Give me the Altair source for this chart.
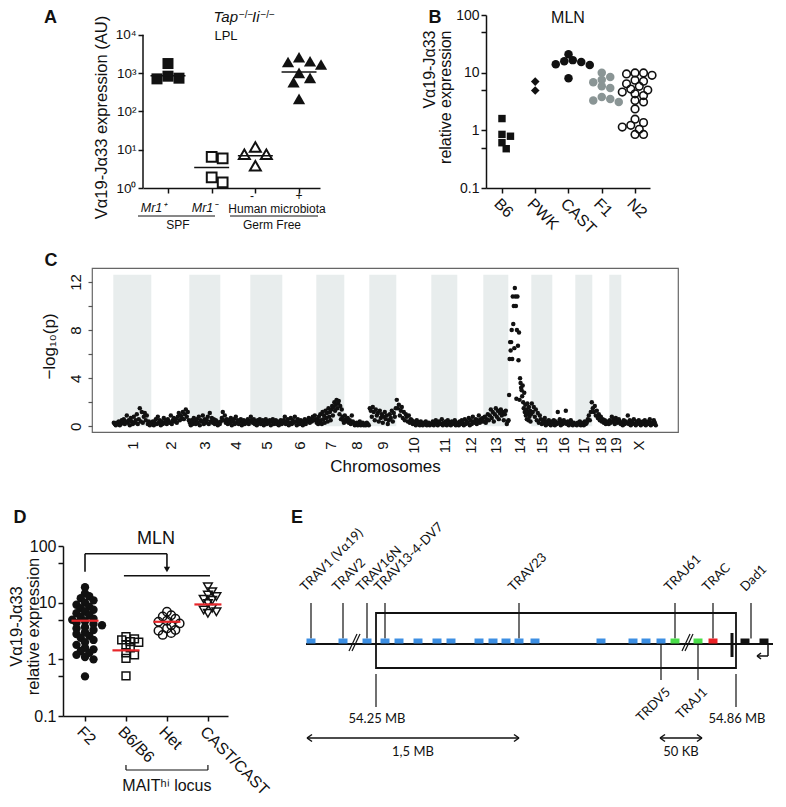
import math

import altair as alt
import pandas as pd

FONT = "Liberation Sans"
EFONT = "Lato"
INK = "#111111"
RED = "#e8262a"
ONE = pd.DataFrame({"d": [0]})

# ---------------- Panel A: Tap-/- Ii-/- LPL ----------------
a_mr1_pos = [826, 703, 1766, 733]
a_mr1_neg = [6.5, 5.9, 1.40, 1.88]
a_gf_neg = [11.8, 7.6, 7.6, 3.8]
a_gf_pos = [2025, 1663, 2572, 1943, 746, 577, 1006, 212]
a_means = [850, 3.43, 6.9, 1069]
a_ticks = [1, 10, 100, 1000, 10000]
a_tick_labels = ["10⁰", "10¹", "10²", "10³", "10⁴"]

# ---------------- Panel B: MLN ----------------
b_names = ["B6", "PWK", "CAST", "F1", "N2"]
b_b6 = [1.6, 0.85, 0.79, 0.61, 0.48]
b_pwk = [4.9, 7.0]
b_cast = [20.9, 15.8, 15.3, 16.5, 14.0, 13.6, 8.0]
b_f1 = [10.0, 8.4, 7.5, 6.8, 5.8, 5.4, 3.8, 3.5, 3.3, 3.1]
b_n2 = [9.9, 9.9, 9.5, 9.0, 7.4, 7.1, 6.4, 5.8, 5.2, 5.0, 4.6, 4.3, 4.0, 3.3,
        3.1, 2.35, 1.56, 1.36, 1.22, 1.14, 1.04, 0.85, 0.85]
rel_ticks = [0.1, 0.5, 1, 5, 10, 50, 100]
rel_labels = ["0.1", "", "1", "", "10", "", "100"]

# ---------------- Panel C: genome scan ----------------
chrom_names = [str(i) for i in range(1, 20)] + ["X"]
chrom_len = [38, 38, 31, 30, 32, 34, 28, 25, 27, 35, 26, 26, 25, 23, 21, 23, 17, 17, 12, 35]
chrom_lod = [
    "0.3 0.2 0.1 0.3 0.2 0.4 0.1 0.2 0.5 0.3 0.6 0.2 0.4 0.9 0.3 0.5 0.1 0.7 0.4 0.2 0.8 0.3 0.5 1.0 0.2 0.6 1.5 0.4 1.2 0.3 0.8 1.1 0.5 0.9 0.2 0.4 0.1 0.3",
    "0.2 0.4 0.1 0.3 0.6 0.2 0.8 0.3 0.5 0.1 0.4 0.2 0.7 0.3 0.5 0.2 0.6 0.4 0.3 0.9 0.2 0.5 0.7 0.4 0.6 0.3 0.8 1.1 0.5 0.9 0.7 1.2 0.6 1.0 1.4 0.8 1.2 0.5",
    "0.3 0.1 0.5 0.2 0.7 0.4 0.2 0.6 0.3 0.8 0.1 0.5 0.4 0.9 0.2 0.6 0.3 0.5 0.8 0.2 1.1 0.4 0.7 0.3 0.6 0.2 0.5 0.4 0.1 0.3 0.2",
    "0.4 0.7 1.2 0.5 0.9 0.3 0.6 0.2 0.5 0.3 0.7 0.1 0.4 0.6 0.2 0.8 0.3 0.5 0.2 0.4 0.6 0.1 0.3 0.5 0.2 0.4 0.3 0.6 0.2 0.4",
    "0.8 0.5 0.3 0.6 0.2 0.4 0.1 0.5 0.3 0.6 0.2 0.4 0.5 0.1 0.3 0.6 0.2 0.4 0.3 0.5 0.1 0.4 0.6 0.2 0.3 0.5 0.2 0.4 0.1 0.3 0.5 0.2",
    "0.3 0.5 0.8 0.2 0.4 0.6 0.1 0.3 0.7 0.2 0.5 0.3 0.8 0.4 0.1 0.6 0.3 0.2 0.5 0.4 0.1 0.3 0.6 0.2 0.4 0.5 0.7 0.3 0.6 0.4 0.8 0.5 0.9 0.6",
    "0.3 0.6 0.2 0.8 0.4 1.0 0.5 0.2 1.2 0.6 0.9 0.3 1.3 0.7 1.1 0.4 1.5 0.8 1.2 0.5 1.4 1.7 0.9 1.6 2.0 1.3 1.8 2.2 1.5 1.9 2.1 1.0 1.7 0.6 1.4 0.8 0.5 0.3",
    "0.9 0.6 0.4 0.7 0.3 0.5 0.2 0.9 0.4 0.3 0.1 0.2 0.3 0.1 0.2 0.4 0.1 0.2 0.3 0.1 0.2 0.1 0.3 0.2 0.1",
    "1.5 1.3 0.8 1.6 1.2 0.5 1.4 0.9 1.1 0.4 1.3 0.7 1.0 0.3 0.8 1.2 0.6 0.9 0.2 0.5 1.0 0.7 1.3 0.4 1.1 0.8 1.5",
    "2.2 1.5 1.8 0.9 1.3 1.6 0.7 1.2 0.5 1.0 0.8 0.4 0.9 0.3 0.6 0.5 0.2 0.4 0.3 0.1 0.5 0.2 0.3 0.1 0.4 0.2 0.1 0.3 0.2 0.4 0.1 0.2 0.3 0.1 0.2",
    "0.2 0.4 0.1 0.3 0.5 0.2 0.1 0.4 0.3 0.2 0.6 0.1 0.3 0.2 0.4 0.1 0.5 0.2 0.3 0.1 0.4 0.2 0.3 0.5 0.1 0.2",
    "0.3 0.1 0.4 0.2 0.5 0.3 0.1 0.6 0.2 0.4 0.3 0.7 0.1 0.5 0.2 0.8 0.4 0.3 0.6 0.2 0.5 0.9 0.3 0.6 0.4 0.7",
    "0.4 0.8 0.3 0.6 1.0 0.5 0.9 1.4 0.7 1.2 0.4 1.0 1.5 0.8 1.3 0.6 1.1 1.4 0.9 1.2 0.5 1.0 1.3 0.2 0.4",
    "0.5 2.6 5.6 7.0 6.3 7.0 8.0 5.6 10.8 8.5 10.0 6.5 11.5 10.8 10.0 2.3 8.0 10.8 6.7 5.5 7.8 2.2 4.0 3.6 3.2 3.0 2.5 3.4 2.0 1.5 2.8 1.2 1.8 0.9 1.4 0.6 1.9 1.1 0.5 1.6 0.8 1.3 0.4 1.0",
    "1.9 1.2 1.6 0.8 1.4 0.5 1.1 0.3 0.9 0.6 0.2 0.5 0.3 0.7 0.1 0.4 0.2 0.5 0.3 0.1 0.4",
    "0.3 0.5 0.1 0.4 0.2 1.2 0.3 0.6 0.1 0.4 0.2 0.5 0.3 1.3 0.2 0.4 0.1 0.3 0.5 0.2 0.1 0.3 0.2",
    "0.2 0.1 0.3 0.2 0.4 0.1 0.3 0.2 0.1 0.4 0.2 0.3 0.6 0.9 0.5 1.2 2.0",
    "1.5 1.2 1.7 0.9 1.3 0.7 1.0 0.5 0.8 0.4 0.6 0.3 0.5 0.2 0.4 0.3 0.2",
    "0.5 0.3 0.8 0.4 0.6 0.2 0.7 0.5 0.3 0.6 0.4 0.2",
    "0.3 0.1 0.5 0.2 0.4 0.3 0.9 0.2 0.5 0.1 0.4 0.3 0.6 0.2 0.1 0.4 0.3 0.5 0.2 0.1 0.3 0.4 0.2 0.5 0.1 0.3 0.2 0.4 0.6 0.1 0.3 0.2 0.5 0.3 0.1",
]

# ---------------- Panel D: MLN, F2 ----------------
d_names = ["F2", "B6/B6", "Het", "CAST/CAST"]
d_f2 = [18.7, 14.6, 13.0, 12.0, 11.0, 10.0, 9.2, 8.5, 8.0, 7.5, 7.0, 6.5, 6.0, 5.6,
        5.2, 5.0, 4.7, 4.4, 4.2, 4.0, 3.7, 3.5, 3.3, 3.0, 2.8, 2.6, 2.4, 2.2, 2.0,
        1.8, 1.6, 1.5, 1.4, 1.3, 1.2, 1.1, 1.0, 0.5]
d_b6 = [2.5, 2.3, 2.2, 2.05, 2.0, 1.8, 1.6, 1.3, 1.2, 1.04, 0.51]
d_het = [6.9, 6.0, 5.7, 5.2, 4.8, 4.6, 4.3, 4.0, 3.5, 3.3, 3.2, 2.9, 2.7]
d_cast = [19.0, 15.6, 13.6, 12.8, 11.5, 11.0, 9.7, 8.0, 7.4, 6.9, 6.5]
d_means = [4.8, 1.44, 4.6, 9.3]

# ---------------- Panel E: TCRa locus (schematic positions) ----------------
e_gene_pos = [11, 43, 67, 85, 99, 118, 137, 151, 179, 193, 206, 219, 235, 301, 333,
              346, 361, 375, 398, 413, 445, 464]
e_gene_kind = ["TRAV"] * 17 + ["TRAJ", "TRAJ", "TRAC", "Dad1", "Dad1"]
e_kind_domain = ["TRAV", "TRAJ", "TRAC", "Dad1"]
e_kind_colors = ["#3d8fe3", "#4ade4a", "#ec2226", INK]
e_up_names = ["TRAV1 (Vα19)", "TRAV2", "TRAV16N", "TRAV13-4-DV7", "TRAV23",
              "TRAJ61", "TRAC", "Dad1"]
e_up_pos = [11, 43, 67, 85, 219, 375, 413, 451]
e_down_names = ["TRDV5", "TRAJ1"]
e_down_pos = [361, 398]
e_region_names = ["54.25 MB", "54.86 MB"]
e_region_pos = [76, 436]
e_breaks = [55, 388]
e_scale_names = ["1,5 MB", "50 KB"]
e_scale_from = [7, 360]
e_scale_to = [219, 402]
e_locus = [6, 473]
e_bar = 432
e_tss = 468


# ---------------- helpers ----------------
def swarm(vals, ppd, step, d, k=0.8):
    ys = [math.log10(v) * ppd for v in vals]
    order = sorted(range(len(vals)), key=lambda i: -ys[i])
    cands = [0.0]
    for j in range(1, 40):
        cands += [j * d * 0.5, -j * d * 0.5]
    placed, offs = [], [0.0] * len(vals)
    for i in order:
        c = 0.0
        for c in cands:
            if all((c - px) ** 2 + (ys[i] - py) ** 2 >= (k * d) ** 2 for px, py in placed):
                break
        placed.append((c, ys[i]))
        offs[i] = c / step
    return offs


def swarm_df(vals, idx, ppd, step, d, k=0.8):
    offs = swarm(vals, ppd, step, d, k)
    return pd.DataFrame({"v": vals, "pos": [idx + o for o in offs]})


def label_expr(values, labels):
    expr = "''"
    for v, l in reversed(list(zip(values, labels))):
        expr = f"datum.value == {v} ? '{l}' : ({expr})"
    return expr


def txt(text, x, y, size=12, font=FONT, **kw):
    return alt.Chart(ONE).mark_text(text=text, fontSize=size, font=font, color=INK, **kw).encode(
        x=alt.value(x), y=alt.value(y))


def seg(x1, y1, x2, y2, w=1.2):
    return alt.Chart(ONE).mark_rule(color=INK, strokeWidth=w).encode(
        x=alt.value(x1), x2=alt.value(x2), y=alt.value(y1), y2=alt.value(y2))


def anchor(x1, y1, x2, y2):
    # invisible frame that fixes the vertical extent of a panel in the layout
    return alt.Chart(ONE).mark_rule(opacity=0, strokeWidth=0.5).encode(
        x=alt.value(x1), x2=alt.value(x2), y=alt.value(y1), y2=alt.value(y2))


def spacer(w, h=1):
    return alt.Chart(ONE).mark_point(opacity=0, size=1).encode(
        x=alt.X("d:Q", axis=None), y=alt.Y("d:Q", axis=None)).properties(width=w, height=h)


def panel_letter(letter, x, y):
    return txt(letter, x, y, size=18, fontWeight="bold", align="center", baseline="middle")


# ---------------- Panel A ----------------
A_W, A_H = 177, 173
A_TOP = 32600
sAx = alt.Scale(domain=[-0.572, 3.48], nice=False, zero=False)
sAy = alt.Scale(type="log", domain=[1, A_TOP], nice=False)
A_PPD = A_H / math.log10(A_TOP)
A_STEP = A_W / (3.48 + 0.572)
axA_x = alt.Axis(values=[0, 1, 2, 3], labels=False, title=None, tickSize=5)
axA_y = alt.Axis(values=a_ticks, labelExpr=label_expr(a_ticks, a_tick_labels), labelFontSize=13.5,
                 labelPadding=2, tickSize=5, domain=False, labelOverlap=False,
                 title="Vα19-Jα33 expression (AU)", titleFontSize=16.5, titleAngle=270,
                 titleX=-41.5, titleY=102, titleAlign="center", titleBaseline="middle")
XA = lambda f: alt.X(f, scale=sAx, axis=axA_x)
YA = lambda f: alt.Y(f, scale=sAy, axis=axA_y)


def a_pts(vals, idx, shape, filled, size, sw):
    df = swarm_df(vals, idx, A_PPD, A_STEP, 11, 0.85)
    return alt.Chart(df).mark_point(shape=shape, filled=filled, size=size, color=INK,
                                    strokeWidth=sw, opacity=1).encode(x=XA("pos:Q"), y=YA("v:Q"))


a_mean_df = pd.DataFrame({"x1": [i - 0.4 for i in range(4)], "x2": [i + 0.4 for i in range(4)],
                          "v": a_means})
chart_A = alt.layer(
    a_pts(a_mr1_pos, 0, "square", True, 121, 0),
    a_pts(a_mr1_neg, 1, "square", False, 95, 2),
    a_pts(a_gf_neg, 2, "triangle-up", False, 120, 2),
    a_pts(a_gf_pos, 3, "triangle-up", True, 150, 0),
    alt.Chart(a_mean_df).mark_rule(color=INK, strokeWidth=1.5).encode(
        x=XA("x1:Q"), x2="x2:Q", y=YA("v:Q")),
    alt.Chart(ONE).mark_rule(color=INK, strokeWidth=1.5).encode(
        x=alt.value(0), y=alt.YDatum(1, scale=sAy, axis=axA_y), y2=alt.Y2Datum(10000)),
    panel_letter("A", -92.5, 3),
    txt("Tap", 95, 7, size=15, fontStyle="italic", align="right", baseline="alphabetic"),
    txt("−/−", 96, 2.5, size=10, align="left", baseline="alphabetic"),
    txt("Ii", 109, 7, size=15, fontStyle="italic", align="left", baseline="alphabetic"),
    txt("−/−", 117.5, 2.5, size=10, align="left", baseline="alphabetic"),
    txt("LPL", 83, 21, size=13, align="center", baseline="middle"),
    txt("Mr1⁺", 10.5, 193, size=12.5, fontStyle="italic", align="center", baseline="middle"),
    txt("Mr1⁻", 61.5, 193, size=12.5, fontStyle="italic", align="center", baseline="middle"),
    txt("-", 109, 181, size=12, align="center", baseline="middle"),
    txt("+", 156, 181, size=12, align="center", baseline="middle"),
    txt("Human microbiota", 134, 193.5, size=12, align="center", baseline="middle"),
    seg(-5, 201, 72, 201, 1),
    seg(87, 201, 175, 201, 1),
    txt("SPF", 35, 209.5, size=12, align="center", baseline="middle"),
    txt("Germ Free", 129, 209.5, size=12, align="center", baseline="middle"),
    anchor(-100, -7, 190, 225),
).properties(width=A_W, height=A_H)

# ---------------- Panel B ----------------
B_W, B_H = 164, 173
sBx = alt.Scale(domain=[-0.48, 4.45], nice=False, zero=False)
sBy = alt.Scale(type="log", domain=[0.1, 100], nice=False)
B_PPD = B_H / 3
B_STEP = B_W / 4.93
axB_x = alt.Axis(values=[0, 1, 2, 3, 4], labelExpr=label_expr([0, 1, 2, 3, 4], b_names),
                 labelAngle=45, labelAlign="left", labelBaseline="top", labelFontSize=16,
                 labelPadding=2, tickSize=5, title=None, labelOverlap=False)
axB_y = alt.Axis(values=rel_ticks, labelExpr=label_expr(rel_ticks, rel_labels), labelFontSize=14,
                 labelPadding=2, tickSize=5, labelOverlap=False,
                 title=["Vα19-Jα33", "relative expression"], titleFontSize=16, titleAngle=270,
                 titleX=-57, titleY=15, titleAlign="right", titleBaseline="middle",
                 titleLineHeight=16)


def b_pts(vals, idx, shape, filled, size, sw, color=INK):
    df = swarm_df(vals, idx, B_PPD, B_STEP, 8.5, 0.75)
    return alt.Chart(df).mark_point(shape=shape, filled=filled, size=size, color=color,
                                    strokeWidth=sw, opacity=1).encode(
        x=alt.X("pos:Q", scale=sBx, axis=axB_x), y=alt.Y("v:Q", scale=sBy, axis=axB_y))


chart_B = alt.layer(
    b_pts(b_b6, 0, "square", True, 55, 0),
    b_pts(b_pwk, 1, "diamond", True, 75, 0),
    b_pts(b_cast, 2, "circle", True, 72, 0),
    b_pts(b_f1, 3, "circle", True, 72, 0, color="#8a9595"),
    b_pts(b_n2, 4, "circle", False, 58, 1.6),
    panel_letter("B", -51, 3),
    txt("MLN", 82, 2.5, size=16, align="center", baseline="middle"),
    anchor(-70, -7, B_W, 225),
).properties(width=B_W, height=B_H)

# ---------------- Panel C ----------------
C_W, C_H = 586, 164
starts = []
acc = 0
for L in chrom_len:
    starts.append(acc)
    acc += L
sCx = alt.Scale(domain=[-21.3, acc + 21.7], nice=False, zero=False)
sCy = alt.Scale(domain=[-0.47, 13.16], nice=False, zero=False)
c_rows = []
for k, s in enumerate(chrom_lod):
    vals = [float(t) for t in s.split()]
    n = len(vals)
    for i, v in enumerate(vals):
        c_rows.append({"pos": starts[k] + (i + 0.5) * chrom_len[k] / n, "v": v})
c_pts = pd.DataFrame(c_rows)
c_bands = pd.DataFrame({"a": [starts[k] for k in range(0, 19, 2)],
                        "b": [starts[k] + chrom_len[k] for k in range(0, 19, 2)]})
c_centers = [starts[k] + chrom_len[k] / 2 for k in range(len(chrom_len))]
axC_x = alt.Axis(values=c_centers, labelExpr=label_expr(c_centers, chrom_names), labelAngle=270,
                 labelAlign="center", labelBaseline="middle", labelFontSize=15, labelPadding=13,
                 ticks=False, domain=False, labelOverlap=False, title="Chromosomes",
                 titleFontSize=17, titleY=34, titleBaseline="middle")
axC_y = alt.Axis(values=[0, 2, 4, 6, 8, 10, 12],
                 labelExpr="datum.value % 4 == 0 ? datum.label : ''",
                 labelAngle=270, labelAlign="center", labelBaseline="middle", labelFontSize=15,
                 labelPadding=13, tickSize=4, tickColor="#555555", tickWidth=1.2, domain=False,
                 labelOverlap=False, title="−log₁₀(p)", titleFontSize=17, titleAngle=270,
                 titleX=-43, titleY=78, titleAlign="center", titleBaseline="middle")
chart_C = alt.layer(
    alt.Chart(c_bands).mark_rect(color="#e8eded").encode(
        x=alt.X("a:Q", scale=sCx, axis=axC_x), x2="b:Q",
        y=alt.YDatum(0, scale=sCy, axis=axC_y), y2=alt.Y2Datum(12.6)),
    alt.Chart(c_pts).mark_circle(size=20, color=INK, opacity=1).encode(
        x=alt.X("pos:Q", scale=sCx, axis=axC_x),
        y=alt.Y("v:Q", scale=sCy, axis=axC_y)),
    panel_letter("C", -41, -7),
    anchor(-60, -27, C_W, 223),
).properties(width=C_W, height=C_H, view=alt.ViewBackground(stroke="#666666", strokeWidth=1.2))

# ---------------- Panel D ----------------
D_W, D_H = 165, 170
sDx = alt.Scale(domain=[-0.537, 3.49], nice=False, zero=False)
sDy = alt.Scale(type="log", domain=[0.1, 100], nice=False)
D_PPD = D_H / 3
D_STEP = D_W / 4.027
axD_x = alt.Axis(values=[0, 1, 2, 3], labelExpr=label_expr([0, 1, 2, 3], d_names),
                 labelAngle=45, labelAlign="left", labelBaseline="top", labelFontSize=16,
                 labelPadding=2, tickSize=5, title=None, labelOverlap=False)
axD_y = alt.Axis(values=rel_ticks, labelExpr=label_expr(rel_ticks, rel_labels), labelFontSize=16,
                 labelPadding=2, tickSize=5, labelOverlap=False,
                 title=["Vα19-Jα33", "relative expression"], titleFontSize=16.5, titleAngle=270,
                 titleX=-46.5, titleY=80, titleAlign="center", titleBaseline="middle",
                 titleLineHeight=17)
XD = lambda f: alt.X(f, scale=sDx, axis=axD_x)
YD = lambda f: alt.Y(f, scale=sDy, axis=axD_y)


def d_pts(vals, idx, shape, filled, size, sw):
    df = swarm_df(vals, idx, D_PPD, D_STEP, 8.5, 0.6)
    return alt.Chart(df).mark_point(shape=shape, filled=filled, size=size, color=INK,
                                    strokeWidth=sw, opacity=1).encode(x=XD("pos:Q"), y=YD("v:Q"))


d_mean_df = pd.DataFrame({"x1": [i - 0.33 for i in range(4)], "x2": [i + 0.33 for i in range(4)],
                          "v": d_means})
d_bracket = pd.DataFrame({"xa": [0, 0, 2, 0.95], "xb": [0, 2, 2, 3.05],
                          "ya": [35, 73, 73, 29.9], "yb": [73, 73, 41, 29.9]})
d_locus = pd.DataFrame({"xa": [1], "xb": [3]})
d_locus_ends = pd.DataFrame({"x": [1, 3]})
d_mid = pd.DataFrame({"x": [2], "y": [38.5]})
chart_D = alt.layer(
    d_pts(d_f2, 0, "circle", True, 70, 0),
    d_pts(d_b6, 1, "square", False, 62, 1.5),
    d_pts(d_het, 2, "circle", False, 70, 1.5),
    d_pts(d_cast, 3, "triangle-down", False, 75, 1.5),
    alt.Chart(d_mean_df).mark_rule(color=RED, strokeWidth=2.2).encode(
        x=XD("x1:Q"), x2="x2:Q", y=YD("v:Q")),
    alt.Chart(d_bracket).mark_rule(color=INK, strokeWidth=1.6).encode(
        x=XD("xa:Q"), x2="xb:Q", y=YD("ya:Q"), y2="yb:Q"),
    alt.Chart(d_mid).mark_point(shape="triangle-down", filled=True, size=40, color=INK,
                                opacity=1).encode(x=XD("x:Q"), y=YD("y:Q")),
    alt.Chart(d_locus).mark_rule(color=INK, strokeWidth=1.2).encode(
        x=XD("xa:Q"), x2="xb:Q", y=alt.value(224)),
    alt.Chart(d_locus_ends).mark_rule(color=INK, strokeWidth=1.2).encode(
        x=XD("x:Q"), y=alt.value(219), y2=alt.value(224)),
    alt.Chart(d_mid).mark_text(text="MAITʰⁱ locus", fontSize=16, font=FONT, color=INK,
                               align="center", baseline="middle").encode(
        x=XD("x:Q"), y=alt.value(240)),
    panel_letter("D", -43, -28),
    txt("MLN", 93, -7, size=18, align="center", baseline="middle"),
    anchor(-55, -54, 225, D_H),
).properties(width=D_W, height=D_H)

# ---------------- Panel E ----------------
E_W, E_H = 476, 230
sEx = alt.Scale(domain=[0, E_W], nice=False, zero=False)
sEy = alt.Scale(domain=[0, E_H], reverse=True, nice=False, zero=False)

segs = [(e_locus[0], e_locus[1], 98, 98, 2.0)]
segs += [(p, p, 57, 92.5, 1.2) for p in e_up_pos]
segs += [(p, p, 98, 134, 1.2) for p in e_down_pos]
segs += [(p, p, 128, 161, 1.2) for p in e_region_pos]
segs += [(e_bar, e_bar, 87, 111, 3.0)]
for p in e_breaks:
    segs += [(p - 6, p + 2, 105, 88, 1.2), (p - 3, p + 5, 105, 88, 1.2)]
for a, b in zip(e_scale_from, e_scale_to):
    segs += [(a, b, 192, 192, 1.5),
             (a, a + 5, 192, 188.5, 1.5), (a, a + 5, 192, 195.5, 1.5),
             (b, b - 5, 192, 188.5, 1.5), (b, b - 5, 192, 195.5, 1.5)]
segs += [(e_tss, e_tss, 98, 110, 1.5), (e_tss, e_tss - 11, 110, 110, 1.5),
         (e_tss - 11, e_tss - 7, 110, 107, 1.5), (e_tss - 11, e_tss - 7, 110, 113, 1.5)]
e_segs = pd.DataFrame(segs, columns=["xa", "xb", "ya", "yb", "w"])

e_genes = pd.DataFrame({"xa": [p - 4.5 for p in e_gene_pos], "xb": [p + 4.5 for p in e_gene_pos],
                        "kind": e_gene_kind})
e_box = pd.DataFrame({"xa": [e_region_pos[0]], "xb": [e_region_pos[1]], "ya": [67], "yb": [122]})
e_up = pd.DataFrame({"x": [p - 5.5 for p in e_up_pos], "y": [46] * len(e_up_pos), "t": e_up_names})
e_down = pd.DataFrame({"x": [p + 10 for p in e_down_pos], "y": [147] * 2, "t": e_down_names})
e_reg = pd.DataFrame({"x": [p + 1 for p in e_region_pos], "y": [173] * 2, "t": e_region_names})
e_sc = pd.DataFrame({"x": [(a + b) / 2 for a, b in zip(e_scale_from, e_scale_to)],
                     "y": [206] * 2, "t": e_scale_names})


def e_text(df, **kw):
    return alt.Chart(df).mark_text(font=EFONT, fontSize=13, color=INK, **kw).encode(
        x=alt.X("x:Q", scale=sEx, axis=None), y=alt.Y("y:Q", scale=sEy, axis=None), text="t:N")


chart_E = alt.layer(
    alt.Chart(e_segs).mark_rule(color=INK).encode(
        x=alt.X("xa:Q", scale=sEx, axis=None), x2="xb:Q",
        y=alt.Y("ya:Q", scale=sEy, axis=None), y2="yb:Q",
        strokeWidth=alt.StrokeWidth("w:Q", scale=None)),
    alt.Chart(e_box).mark_rect(filled=False, color=INK, strokeWidth=1.8).encode(
        x=alt.X("xa:Q", scale=sEx, axis=None), x2="xb:Q",
        y=alt.Y("ya:Q", scale=sEy, axis=None), y2="yb:Q"),
    alt.Chart(e_genes).mark_rect().encode(
        x=alt.X("xa:Q", scale=sEx, axis=None), x2="xb:Q",
        y=alt.value(92.5), y2=alt.value(97.5),
        color=alt.Color("kind:N", scale=alt.Scale(domain=e_kind_domain, range=e_kind_colors),
                        legend=None)),
    e_text(e_up, angle=315, align="left", baseline="alphabetic"),
    e_text(e_down, angle=315, align="right", baseline="alphabetic"),
    e_text(e_reg, align="center", baseline="middle"),
    e_text(e_sc, align="center", baseline="middle"),
    panel_letter("E", -3, -28),
    anchor(-12, -54, E_W, E_H),
).properties(width=E_W, height=E_H)

# ---------------- layout ----------------
row1 = alt.hconcat(spacer(80), chart_A, spacer(166), chart_B, spacing=0, bounds="flush")
row2 = alt.hconcat(spacer(29), chart_C, spacing=0, bounds="flush")
row3 = alt.hconcat(chart_D, spacer(72), chart_E, spacing=0, bounds="flush")
chart = alt.vconcat(row1, row2, row3, spacing=0).properties(
    padding=0, background="white"
).configure(font=FONT).configure_view(strokeWidth=0).configure_axis(
    labelFont=FONT, titleFont=FONT, labelColor=INK, titleColor=INK, domainColor=INK,
    tickColor=INK, domainWidth=1.5, tickWidth=1.5, grid=False, titleFontWeight="normal",
)

chart.save("out.html", embed_options={"renderer": "svg", "actions": False})
